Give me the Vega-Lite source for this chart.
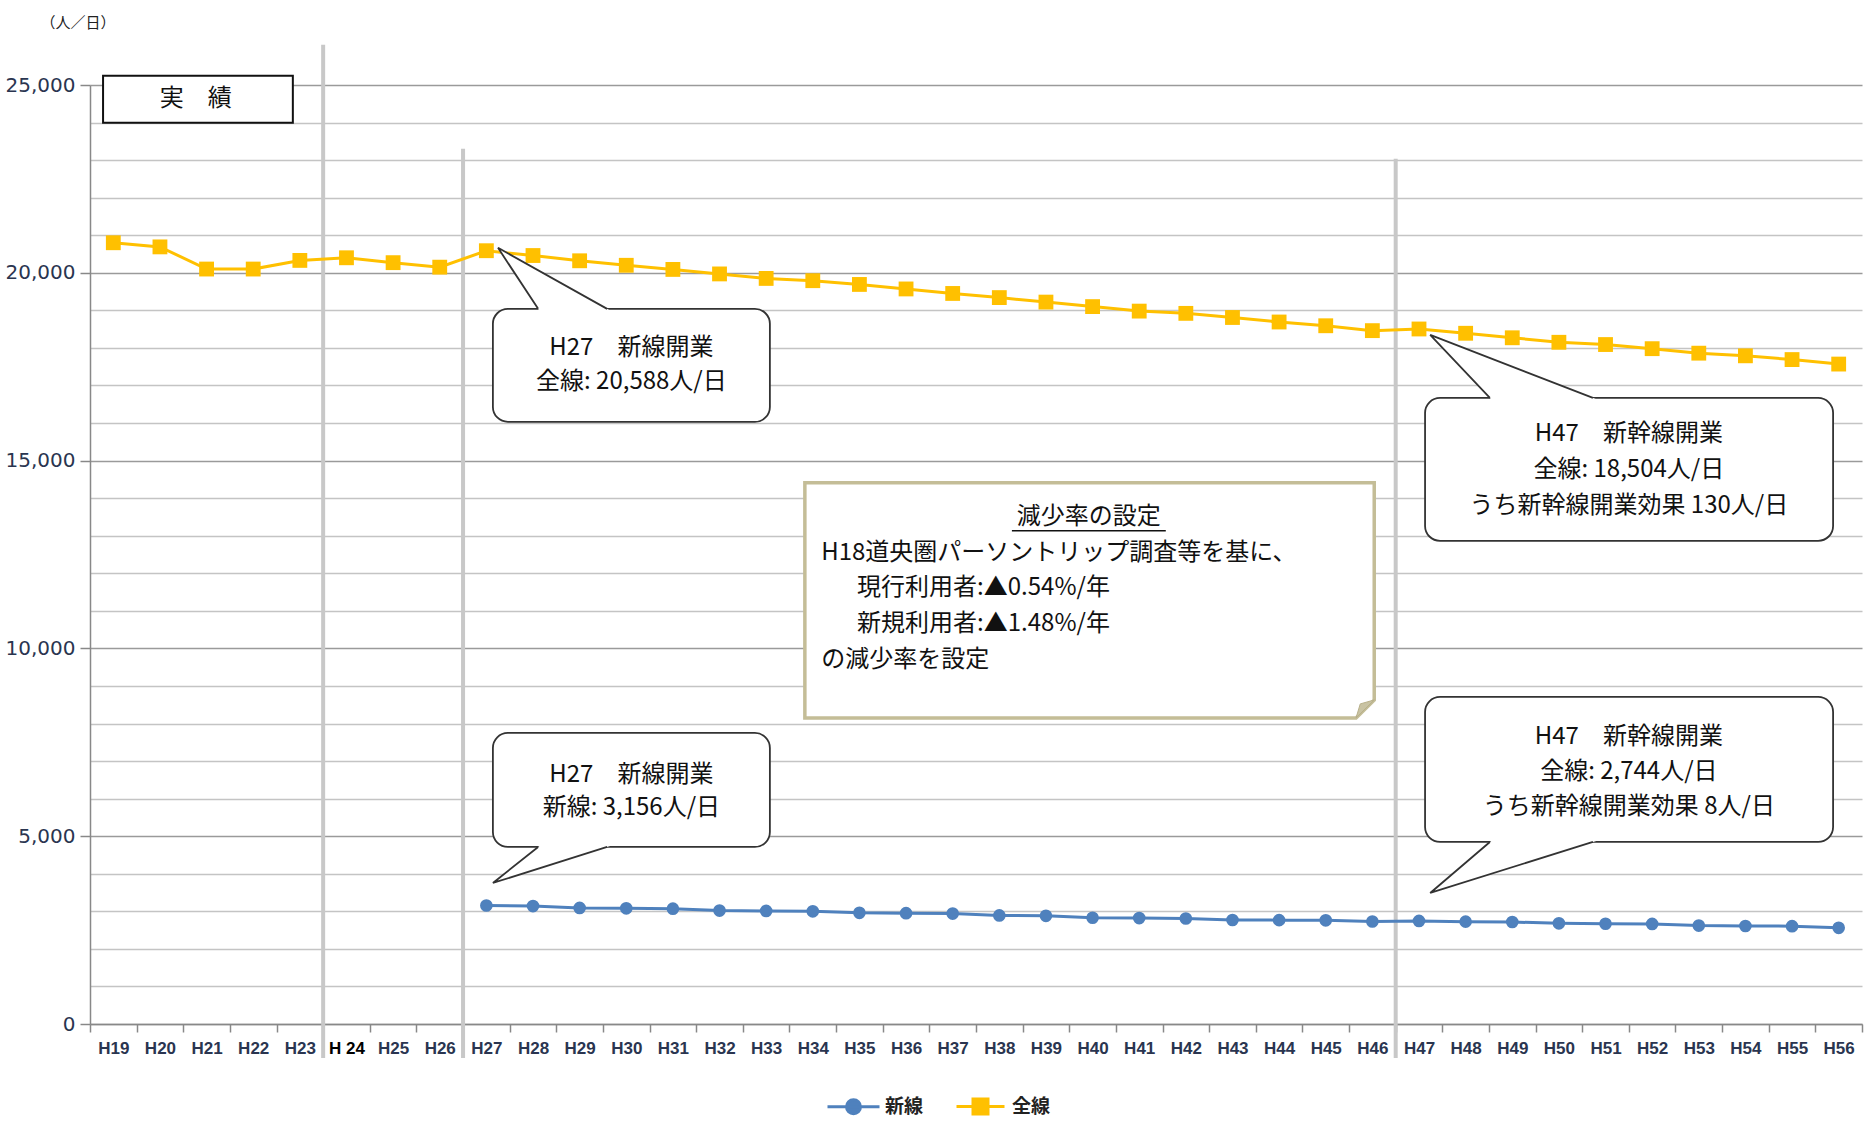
{
  "$schema": "https://vega.github.io/schema/vega-lite/v6.json",
  "width": 1772,
  "height": 939,
  "autosize": {"type": "none"},
  "padding": {"left": 90, "top": 85, "right": 12, "bottom": 101},
  "background": "white",
  "config": {"view": {"stroke": null}, "font": "Noto Sans CJK JP"},
  "datasets": {
    "series": [
      {"year": 19, "series": "全線", "value": 20800},
      {"year": 20, "series": "全線", "value": 20690},
      {"year": 21, "series": "全線", "value": 20100},
      {"year": 22, "series": "全線", "value": 20100},
      {"year": 23, "series": "全線", "value": 20330},
      {"year": 24, "series": "全線", "value": 20400},
      {"year": 25, "series": "全線", "value": 20270},
      {"year": 26, "series": "全線", "value": 20150},
      {"year": 27, "series": "全線", "value": 20588},
      {"year": 28, "series": "全線", "value": 20460},
      {"year": 29, "series": "全線", "value": 20320},
      {"year": 30, "series": "全線", "value": 20200},
      {"year": 31, "series": "全線", "value": 20090},
      {"year": 32, "series": "全線", "value": 19970},
      {"year": 33, "series": "全線", "value": 19850},
      {"year": 34, "series": "全線", "value": 19790},
      {"year": 35, "series": "全線", "value": 19690},
      {"year": 36, "series": "全線", "value": 19570},
      {"year": 37, "series": "全線", "value": 19450},
      {"year": 38, "series": "全線", "value": 19340},
      {"year": 39, "series": "全線", "value": 19220},
      {"year": 40, "series": "全線", "value": 19100},
      {"year": 41, "series": "全線", "value": 18980},
      {"year": 42, "series": "全線", "value": 18920},
      {"year": 43, "series": "全線", "value": 18810},
      {"year": 44, "series": "全線", "value": 18690},
      {"year": 45, "series": "全線", "value": 18590},
      {"year": 46, "series": "全線", "value": 18460},
      {"year": 47, "series": "全線", "value": 18504},
      {"year": 48, "series": "全線", "value": 18390},
      {"year": 49, "series": "全線", "value": 18270},
      {"year": 50, "series": "全線", "value": 18150},
      {"year": 51, "series": "全線", "value": 18090},
      {"year": 52, "series": "全線", "value": 17980},
      {"year": 53, "series": "全線", "value": 17860},
      {"year": 54, "series": "全線", "value": 17790},
      {"year": 55, "series": "全線", "value": 17690},
      {"year": 56, "series": "全線", "value": 17570},
      {"year": 27, "series": "新線", "value": 3156},
      {"year": 28, "series": "新線", "value": 3140},
      {"year": 29, "series": "新線", "value": 3090},
      {"year": 30, "series": "新線", "value": 3080},
      {"year": 31, "series": "新線", "value": 3070},
      {"year": 32, "series": "新線", "value": 3020},
      {"year": 33, "series": "新線", "value": 3010},
      {"year": 34, "series": "新線", "value": 3000},
      {"year": 35, "series": "新線", "value": 2960},
      {"year": 36, "series": "新線", "value": 2950},
      {"year": 37, "series": "新線", "value": 2940},
      {"year": 38, "series": "新線", "value": 2890},
      {"year": 39, "series": "新線", "value": 2880},
      {"year": 40, "series": "新線", "value": 2830},
      {"year": 41, "series": "新線", "value": 2820},
      {"year": 42, "series": "新線", "value": 2810},
      {"year": 43, "series": "新線", "value": 2770},
      {"year": 44, "series": "新線", "value": 2765},
      {"year": 45, "series": "新線", "value": 2760},
      {"year": 46, "series": "新線", "value": 2730},
      {"year": 47, "series": "新線", "value": 2744},
      {"year": 48, "series": "新線", "value": 2725},
      {"year": 49, "series": "新線", "value": 2715},
      {"year": 50, "series": "新線", "value": 2680},
      {"year": 51, "series": "新線", "value": 2670},
      {"year": 52, "series": "新線", "value": 2665},
      {"year": 53, "series": "新線", "value": 2620},
      {"year": 54, "series": "新線", "value": 2610},
      {"year": 55, "series": "新線", "value": 2605},
      {"year": 56, "series": "新線", "value": 2560}
    ],
    "seps": [
      {"year": 23.5, "value": 26071, "value2": -905},
      {"year": 26.5, "value": 23301, "value2": -905},
      {"year": 46.5, "value": 23035, "value2": -905}
    ],
    "boxes": [
      {"id": "c1", "year": 27.14, "year2": 33.08, "value": 16031, "value2": 19040},
      {"id": "c2", "year": 27.14, "year2": 33.08, "value": 4714, "value2": 7749},
      {"id": "c3", "year": 47.13, "year2": 55.88, "value": 12862, "value2": 16670},
      {"id": "c4", "year": 47.13, "year2": 55.88, "value": 4847, "value2": 8708}
    ],
    "plain": [
      {"year": 18.78, "year2": 22.85, "value": 23994, "value2": 25245}
    ],
    "tailFill": [
      {"id": "c1", "k": 0, "year": 27.25, "value": 20665},
      {"id": "c1", "k": 1, "year": 28.15, "value": 18960},
      {"id": "c1", "k": 2, "year": 29.70, "value": 18960},
      {"id": "c2", "k": 0, "year": 27.14, "value": 3755},
      {"id": "c2", "k": 1, "year": 28.19, "value": 4794},
      {"id": "c2", "k": 2, "year": 29.79, "value": 4794},
      {"id": "c3", "k": 0, "year": 47.24, "value": 18348},
      {"id": "c3", "k": 1, "year": 48.58, "value": 16590},
      {"id": "c3", "k": 2, "year": 50.90, "value": 16590},
      {"id": "c4", "k": 0, "year": 47.24, "value": 3489},
      {"id": "c4", "k": 1, "year": 48.60, "value": 4927},
      {"id": "c4", "k": 2, "year": 50.94, "value": 4927}
    ],
    "tailLine": [
      {"id": "c1", "k": 0, "year": 28.11, "value": 19040},
      {"id": "c1", "k": 1, "year": 27.25, "value": 20665},
      {"id": "c1", "k": 2, "year": 29.59, "value": 19040},
      {"id": "c2", "k": 0, "year": 28.11, "value": 4714},
      {"id": "c2", "k": 1, "year": 27.14, "value": 3755},
      {"id": "c2", "k": 2, "year": 29.59, "value": 4714},
      {"id": "c3", "k": 0, "year": 48.52, "value": 16670},
      {"id": "c3", "k": 1, "year": 47.24, "value": 18348},
      {"id": "c3", "k": 2, "year": 50.73, "value": 16670},
      {"id": "c4", "k": 0, "year": 48.52, "value": 4847},
      {"id": "c4", "k": 1, "year": 47.24, "value": 3489},
      {"id": "c4", "k": 2, "year": 50.73, "value": 4847}
    ],
    "note": [
      {"id": "n", "k": 0, "year": 33.83, "value": 14407},
      {"id": "n", "k": 1, "year": 46.04, "value": 14407},
      {"id": "n", "k": 2, "year": 46.04, "value": 8628},
      {"id": "n", "k": 3, "year": 45.65, "value": 8149},
      {"id": "n", "k": 4, "year": 33.83, "value": 8149}
    ],
    "fold": [
      {"id": "f", "k": 0, "year": 45.65, "value": 8149},
      {"id": "f", "k": 1, "year": 46.04, "value": 8628},
      {"id": "f", "k": 2, "year": 45.74, "value": 8522}
    ],
    "underline": [
      {"year": 38.27, "year2": 41.57, "value": 13129}
    ],
    "labels": [
      {"year": 20.77, "value": 24619, "t": "実　績", "kind": "c"},
      {"year": 30.11, "value": 18002, "t": "H27　新線開業", "kind": "c"},
      {"year": 30.11, "value": 17096, "t": "全線: 20,588人/日", "kind": "c"},
      {"year": 30.11, "value": 6631, "t": "H27　新線開業", "kind": "c"},
      {"year": 30.11, "value": 5752, "t": "新線: 3,156人/日", "kind": "c"},
      {"year": 51.5, "value": 15712, "t": "H47　新幹線開業", "kind": "c"},
      {"year": 51.5, "value": 14753, "t": "全線: 18,504人/日", "kind": "c"},
      {"year": 51.5, "value": 13794, "t": "うち新幹線開業効果 130人/日", "kind": "c"},
      {"year": 51.5, "value": 7643, "t": "H47　新幹線開業", "kind": "c"},
      {"year": 51.5, "value": 6711, "t": "全線: 2,744人/日", "kind": "c"},
      {"year": 51.5, "value": 5779, "t": "うち新幹線開業効果 8人/日", "kind": "c"},
      {"year": 39.92, "value": 13501, "t": "減少率の設定", "kind": "c"},
      {"year": 34.18, "value": 12543, "t": "H18道央圏パーソントリップ調査等を基に、", "kind": "l"},
      {"year": 34.95, "value": 11611, "t": "現行利用者:▲0.54%/年", "kind": "l"},
      {"year": 34.95, "value": 10652, "t": "新規利用者:▲1.48%/年", "kind": "l"},
      {"year": 34.18, "value": 9693, "t": "の減少率を設定", "kind": "l"}
    ]
  },
  "encoding": {
    "x": {
      "field": "year", "type": "quantitative",
      "scale": {"domain": [18.5, 56.5], "nice": false, "zero": false},
      "axis": {
        "title": null,
        "values": [18.5,19,19.5,20,20.5,21,21.5,22,22.5,23,23.5,24,24.5,25,25.5,26,26.5,27,27.5,28,28.5,29,29.5,30,30.5,31,31.5,32,32.5,33,33.5,34,34.5,35,35.5,36,36.5,37,37.5,38,38.5,39,39.5,40,40.5,41,41.5,42,42.5,43,43.5,44,44.5,45,45.5,46,46.5,47,47.5,48,48.5,49,49.5,50,50.5,51,51.5,52,52.5,53,53.5,54,54.5,55,55.5,56,56.5],
        "labelExpr": "datum.value % 1 == 0 ? (datum.value == 24 ? 'H 24' : 'H' + datum.value) : ''",
        "tickOpacity": {"condition": {"test": "datum.value % 1 != 0", "value": 1}, "value": 0},
        "tickSize": 8, "tickColor": "#888888", "tickWidth": 1.5,
        "domainColor": "#888888", "domainWidth": 1.5,
        "grid": false,
        "labelFont": "Liberation Sans", "labelFontSize": 17, "labelFontWeight": "bold",
        "labelColor": {"condition": {"test": "datum.value == 24", "value": "#000000"}, "value": "#2a3550"},
        "labelPadding": 8, "labelOverlap": false, "labelBound": false, "labelFlush": false
      }
    },
    "y": {
      "field": "value", "type": "quantitative",
      "scale": {"domain": [0, 25000], "nice": false},
      "axis": {
        "title": "（人／日）", "titleAngle": 0, "titleAlign": "left", "titleBaseline": "middle",
        "titleX": -50, "titleY": -63, "titleFont": "Noto Sans CJK JP", "titleFontSize": 15,
        "titleFontWeight": "normal", "titleColor": "#222222",
        "values": [0,1000,2000,3000,4000,5000,6000,7000,8000,9000,10000,11000,12000,13000,14000,15000,16000,17000,18000,19000,20000,21000,22000,23000,24000,25000],
        "labelExpr": "datum.value % 5000 == 0 ? format(datum.value, ',') : ''",
        "tickOpacity": {"condition": {"test": "datum.value % 5000 == 0", "value": 1}, "value": 0},
        "tickSize": 10, "tickColor": "#888888", "tickWidth": 1.5,
        "grid": true,
        "gridColor": {"condition": {"test": "datum.value % 5000 == 0", "value": "#9a9a9a"}, "value": "#c4c4c4"},
        "gridWidth": 1.5,
        "domainColor": "#888888", "domainWidth": 1.5,
        "labelFont": "DejaVu Sans", "labelFontSize": 20, "labelColor": "#2a3550", "labelPadding": 5,
        "labelOverlap": false
      }
    }
  },
  "layer": [
    {
      "data": {"name": "seps"},
      "mark": {"type": "rule", "color": "#c8c8c8", "strokeWidth": 4, "clip": false},
      "encoding": {
        "y2": {"field": "value2"}
      }
    },
    {
      "data": {"name": "series"},
      "mark": {"type": "line", "strokeWidth": 3},
      "encoding": {
        "color": {
          "field": "series", "type": "nominal",
          "scale": {"domain": ["新線", "全線"], "range": ["#4F81BD", "#FFC000"]},
          "legend": {
            "title": null, "orient": "none", "direction": "horizontal",
            "legendX": 752, "legendY": 1010, "padding": 0,
            "labelFont": "Noto Sans CJK JP", "labelFontSize": 19, "labelFontWeight": "bold", "labelColor": "#222222",
            "symbolSize": 400, "symbolStrokeWidth": 3, "labelOffset": 20, "columnPadding": 26,
            "encoding": {
              "symbols": {
                "shape": {"condition": {"test": "datum.value == '新線'", "value": "M-2.6,0L2.6,0M-0.7,0A0.7,0.7,0,1,0,0.7,0A0.7,0.7,0,1,0,-0.7,0Z"}, "value": "M-2.4,0L2.4,0M-0.75,-0.75L0.75,-0.75L0.75,0.75L-0.75,0.75Z"},
                "fill": {"condition": {"test": "datum.value == '新線'", "value": "#4F81BD"}, "value": "#FFC000"},
                "stroke": {"condition": {"test": "datum.value == '新線'", "value": "#4F81BD"}, "value": "#FFC000"},
                "strokeWidth": {"value": 3},
                "opacity": {"value": 1}
              }
            }
          }
        }
      }
    },
    {
      "data": {"name": "series"},
      "transform": [{"filter": "datum.series === '新線'"}],
      "mark": {"type": "point", "shape": "circle", "filled": true, "opacity": 1, "size": 160},
      "encoding": {
        "color": {"field": "series", "type": "nominal", "legend": null}
      }
    },
    {
      "data": {"name": "series"},
      "transform": [{"filter": "datum.series === '全線'"}],
      "mark": {"type": "point", "shape": "square", "filled": true, "opacity": 1, "size": 220},
      "encoding": {
        "color": {"field": "series", "type": "nominal", "legend": null}
      }
    },
    {
      "data": {"name": "plain"},
      "mark": {"type": "rect", "fill": "white", "stroke": "#111111", "strokeWidth": 2, "clip": false},
      "encoding": {
        "x2": {"field": "year2"},
        "y2": {"field": "value2"}
      }
    },
    {
      "data": {"name": "boxes"},
      "mark": {"type": "rect", "fill": "white", "stroke": "#333333", "strokeWidth": 1.8, "cornerRadius": 15},
      "encoding": {
        "x2": {"field": "year2"},
        "y2": {"field": "value2"}
      }
    },
    {
      "data": {"name": "tailFill"},
      "mark": {"type": "line", "interpolate": "linear-closed", "fill": "white", "strokeOpacity": 0},
      "encoding": {
        "detail": {"field": "id"},
        "order": {"field": "k", "type": "quantitative"}
      }
    },
    {
      "data": {"name": "tailLine"},
      "mark": {"type": "line", "color": "#333333", "strokeWidth": 1.8},
      "encoding": {
        "detail": {"field": "id"},
        "order": {"field": "k", "type": "quantitative"}
      }
    },
    {
      "data": {"name": "note"},
      "mark": {"type": "line", "interpolate": "linear-closed", "fill": "white", "stroke": "#c4bd97", "strokeWidth": 3.5},
      "encoding": {
        "detail": {"field": "id"},
        "order": {"field": "k", "type": "quantitative"}
      }
    },
    {
      "data": {"name": "fold"},
      "mark": {"type": "line", "interpolate": "linear-closed", "fill": "#c9c3a3", "stroke": "#b8b08a", "strokeWidth": 1},
      "encoding": {
        "detail": {"field": "id"},
        "order": {"field": "k", "type": "quantitative"}
      }
    },
    {
      "data": {"name": "underline"},
      "mark": {"type": "rule", "color": "#111111", "strokeWidth": 1.5},
      "encoding": {
        "x2": {"field": "year2"}
      }
    },
    {
      "data": {"name": "labels"},
      "transform": [{"filter": "datum.kind === 'c'"}],
      "mark": {"type": "text", "align": "center", "baseline": "middle", "font": "Noto Sans CJK JP", "fontSize": 24, "color": "#111111", "clip": false},
      "encoding": {
        "text": {"field": "t"}
      }
    },
    {
      "data": {"name": "labels"},
      "transform": [{"filter": "datum.kind === 'l'"}],
      "mark": {"type": "text", "align": "left", "baseline": "middle", "font": "Noto Sans CJK JP", "fontSize": 24, "color": "#111111"},
      "encoding": {
        "text": {"field": "t"}
      }
    }
  ]
}
